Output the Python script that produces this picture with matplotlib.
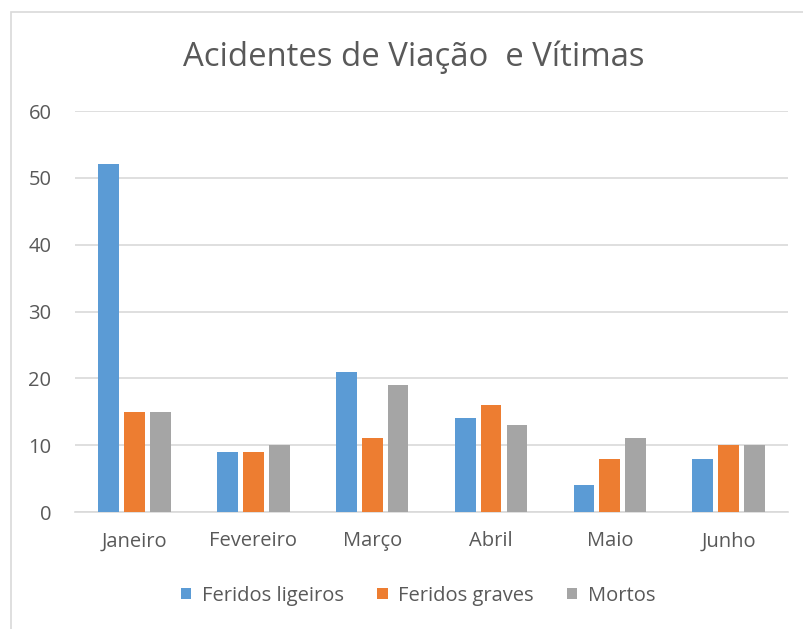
import matplotlib.pyplot as plt
import numpy as np

meses = ['Janeiro', 'Fevereiro', 'Março', 'Abril', 'Maio', 'Junho']
ligeiros = [52, 9, 21, 14, 4, 8]
graves = [15, 9, 11, 16, 8, 10]
mortos = [15, 10, 19, 13, 11, 10]

series = [('Feridos ligeiros', ligeiros, '#5B9BD5'),
          ('Feridos graves', graves, '#ED7D31'),
          ('Mortos', mortos, '#A5A5A5')]

plt.rcParams['font.family'] = ['Open Sans', 'DejaVu Sans']
cinza = '#595959'

fig = plt.figure(figsize=(8.04, 6.29), dpi=100)
ax = fig.add_axes([0.0933, 0.186, 0.887, 0.6375])

x = np.arange(len(meses))
larg = 0.175
passo = 0.218
for i, (nome, vals, cor) in enumerate(series):
    ax.bar(x + (i - 1) * passo, vals, larg, color=cor, label=nome, zorder=3)

ax.set_xlim(-0.5, len(meses) - 0.5)
ax.set_ylim(0, 60)
ax.set_yticks(range(0, 61, 10))
ax.set_xticks(x)
ax.set_xticklabels(meses)
ax.grid(axis='y', color='#D9D9D9', lw=1.2, zorder=0)
for s in ['top', 'right', 'left']:
    ax.spines[s].set_visible(False)
ax.spines['bottom'].set_color('#D9D9D9')
ax.spines['bottom'].set_linewidth(1.2)
ax.tick_params(length=0, colors=cinza, labelsize=14.5)
ax.tick_params(axis='y', pad=17)
ax.tick_params(axis='x', pad=14)

fig.text(0.514, 0.909, 'Acidentes de Viação  e Vítimas', ha='center', va='center',
         fontsize=23.7, color=cinza)

fig.legend(loc='center', bbox_to_anchor=(0.52, 0.053), ncol=3, frameon=False,
           fontsize=14.5, labelcolor=cinza, handlelength=0.52, handleheight=0.52,
           columnspacing=1.65, handletextpad=0.52)

fig.patches.append(plt.Rectangle((11 / 804, -0.1), 1.1, 1 - 12 / 629 + 0.1,
                                 transform=fig.transFigure, fill=False,
                                 edgecolor='#D9D9D9', lw=1.2))

fig.savefig('out.png', dpi=100)
